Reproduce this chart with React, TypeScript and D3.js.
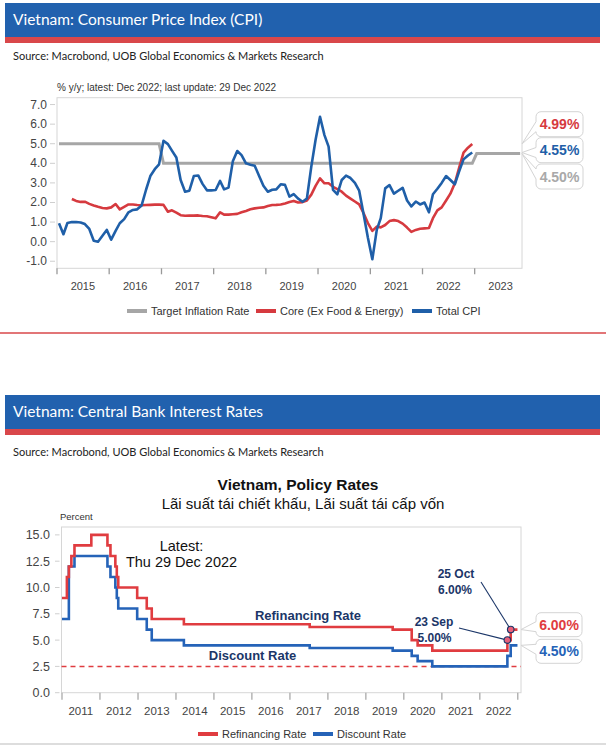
import React from 'react';
import * as d3 from 'd3';

// ---------- Chart 1 data: Vietnam CPI (% y/y), monthly Jan 2015 - Dec 2022 ----------
const cpiStart = [2015, 0];
const totalCPI = [
  0.94, 0.38, 0.95, 1.0, 1.0, 0.98, 0.9, 0.65, 0.05, 0.0, 0.3, 0.6,
  0.1, 0.55, 0.94, 1.15, 1.5, 1.62, 1.65, 1.85, 2.65, 3.35, 3.7, 3.95,
  5.15, 4.98, 4.65, 4.3, 3.15, 2.55, 2.6, 3.35, 3.38, 2.95, 2.62, 2.62,
  2.64, 3.1, 2.67, 2.76, 4.1, 4.63, 4.42, 4.0, 3.93, 3.88, 3.35, 2.85,
  2.55, 2.65, 2.67, 2.93, 2.9, 2.3, 2.43, 2.2, 2.04, 2.2, 3.83, 5.2,
  6.38, 5.44, 4.85, 2.64, 2.42, 3.15, 3.37, 3.25, 3.0, 2.6, 1.4, 0.2,
  -0.9, 0.6, 1.2, 2.72, 2.89, 2.45, 2.6, 2.75, 2.1, 1.8, 2.05, 1.9,
  2.0, 1.5, 2.42, 2.7, 3.0, 3.35, 3.15, 2.93, 3.6, 4.2, 4.4, 4.55,
];
const coreCPI: (number | null)[] = [
  null, null, null, 2.18, 2.08, 2.03, 2.04, 1.93, 1.85, 1.78, 1.72, 1.7,
  1.75, 1.92, 1.65, 1.78, 1.9, 1.9, 1.87, 1.86, 1.87, 1.88, 1.89, 1.89,
  1.88, 1.53, 1.6, 1.48, 1.35, 1.32, 1.33, 1.33, 1.34, 1.31, 1.3, 1.25,
  1.19, 1.5, 1.38, 1.38, 1.4, 1.42, 1.5, 1.57, 1.65, 1.7, 1.73, 1.75,
  1.82, 1.87, 1.88, 1.9, 1.95, 2.02, 2.08, 2.0, 2.02, 2.1, 2.4, 2.85,
  3.23, 2.98, 2.98, 2.8, 2.68, 2.55, 2.35, 2.2, 2.05, 1.9, 1.45, 0.95,
  0.55, 0.77, 0.73, 0.85, 1.05, 1.1, 1.05, 0.92, 0.72, 0.5, 0.6, 0.66,
  0.68, 0.7, 1.2, 1.6, 1.75, 2.1, 2.45, 2.98, 3.8, 4.55, 4.8, 4.99,
];
// Target inflation rate: [year, month(1-12), value]
const targetPoints: [number, number, number][] = [
  [2015, 1, 5.0], [2016, 12, 5.0], [2017, 1, 4.0], [2022, 12, 4.0], [2023, 1, 4.5], [2023, 11, 4.5],
];
const cpiYTicks = [7, 6, 5, 4, 3, 2, 1, 0, -1];
const cpiYears = [2015, 2016, 2017, 2018, 2019, 2020, 2021, 2022, 2023];
const cpiLatest = [
  { label: '4.99%', value: 4.99, color: '#d63a3f' },
  { label: '4.55%', value: 4.55, color: '#1f5fa8' },
  { label: '4.50%', value: 4.5, color: '#a9a9a9' },
];

// ---------- Chart 2 data: policy rates (step changes) ----------
const refiChanges: [string, number][] = [
  ['2011-01-01', 9], ['2011-02-17', 11], ['2011-03-08', 12], ['2011-04-01', 13], ['2011-05-01', 14],
  ['2011-10-10', 15], ['2012-03-13', 14], ['2012-04-11', 13], ['2012-05-28', 12], ['2012-06-11', 11],
  ['2012-06-25', 10], ['2012-12-24', 9], ['2013-03-26', 8], ['2013-05-13', 7], ['2014-03-18', 6.5],
  ['2017-07-10', 6.25], ['2019-09-16', 6.0], ['2020-03-17', 5.0], ['2020-05-13', 4.5], ['2020-10-01', 4.0],
  ['2022-09-23', 5.0], ['2022-10-25', 6.0], ['2022-12-29', 6.0],
];
const discChanges: [string, number][] = [
  ['2011-01-01', 7], ['2011-03-08', 12], ['2011-05-01', 13], ['2012-03-13', 12], ['2012-04-11', 11],
  ['2012-05-28', 10], ['2012-06-11', 9], ['2012-06-25', 8], ['2012-12-24', 7], ['2013-03-26', 6],
  ['2013-05-13', 5], ['2014-03-18', 4.5], ['2017-07-10', 4.25], ['2019-09-16', 4.0], ['2020-03-17', 3.5],
  ['2020-05-13', 3.0], ['2020-10-01', 2.5], ['2022-09-23', 3.5], ['2022-10-25', 4.5], ['2022-12-29', 4.5],
];
const floorRate = 2.5;
const rateYTicks = [15, 12.5, 10, 7.5, 5, 2.5, 0];
const rateYears = [2011, 2012, 2013, 2014, 2015, 2016, 2017, 2018, 2019, 2020, 2021, 2022];
const rateMarkers: { date: string; value: number; l1: string; l2: string }[] = [
  { date: '2022-09-23', value: 5.0, l1: '23 Sep', l2: '5.00%' },
  { date: '2022-10-25', value: 6.0, l1: '25 Oct', l2: '6.00%' },
];
const rateLatest = [
  { label: '6.00%', value: 6.0, color: '#e03c40' },
  { label: '4.50%', value: 4.5, color: '#2563b8' },
];

// ---------- styling ----------
const BLUE_BANNER = '#2161ae';
const RED_STRIPE = '#d9474a';
const NAVY = '#1b3668';
const SANS = 'Liberation Sans, Arial, sans-serif';
const HEAD = 'Lato, Open Sans, sans-serif';

const parse = d3.timeParse('%Y-%m-%d');

function callout(x0: number, y0: number, w: number, h: number, tx: number, ty: number) {
  const r = 5, half = 5;
  const cy = Math.max(y0 + r + half, Math.min(y0 + h - r - half, ty));
  return `M${x0 + r},${y0} H${x0 + w - r} A${r},${r} 0 0 1 ${x0 + w},${y0 + r} V${y0 + h - r} A${r},${r} 0 0 1 ${x0 + w - r},${y0 + h} H${x0 + r} A${r},${r} 0 0 1 ${x0},${y0 + h - r} V${cy + half} L${tx},${ty} L${x0},${cy - half} V${y0 + r} A${r},${r} 0 0 1 ${x0 + r},${y0} Z`;
}

function Banner({ y, title }: { y: number; title: string }) {
  return (
    <g>
      <rect x={5} y={y} width={595} height={34} fill={BLUE_BANNER} />
      <rect x={5} y={y + 34} width={595} height={6} fill={RED_STRIPE} />
      <text x={13} y={y + 22} fill="#fff" fontFamily={HEAD} fontSize={15.5}>{title}</text>
    </g>
  );
}

function CPIChart() {
  const x0 = 57, x1 = 522, yT = 97.7, yB = 268.3;
  const x = d3.scaleTime().domain([new Date(2015, 0, 1), new Date(2023, 10, 28)]).range([x0, x1]);
  const y = d3.scaleLinear().domain([-1.36, 7.35]).range([yB, yT]);
  const monthDate = (i: number) => new Date(cpiStart[0], cpiStart[1] + i, 15);
  const line = d3.line<[Date, number]>().x(d => x(d[0])).y(d => y(d[1]));
  const totalPts: [Date, number][] = totalCPI.map((v, i) => [monthDate(i), v]);
  const corePts: [Date, number][] = coreCPI
    .map((v, i) => [monthDate(i), v] as [Date, number | null])
    .filter(d => d[1] != null) as [Date, number][];
  const tgtPts: [Date, number][] = targetPoints.map(([yy, mm, v]) => [new Date(yy, mm - 1, 15), v]);
  const boxes = [111.7, 137.7, 164];
  return (
    <g>
      <text x={57} y={91} fontFamily={SANS} fontSize={10} fill="#333">% y/y; latest: Dec 2022; last update: 29 Dec 2022</text>
      {/* frame */}
      <rect x={x0} y={yT} width={x1 - x0} height={yB - yT} fill="none" stroke="#d6d6d6" strokeWidth={1} />
      {cpiYTicks.map(t => (
        <g key={t}>
          <line x1={50} x2={55} y1={y(t)} y2={y(t)} stroke="#cfcfcf" />
          <text x={47} y={y(t) + 4} textAnchor="end" fontFamily={SANS} fontSize={12} fill="#444">{t.toFixed(1)}</text>
        </g>
      ))}
      {cpiYears.map(yr => (
        <g key={yr}>
          <line x1={x(new Date(yr, 0, 1))} x2={x(new Date(yr, 0, 1))} y1={yB} y2={yB + 6} stroke="#999" strokeWidth={1.3} />
          <text x={x(new Date(yr, 6, 1))} y={290} textAnchor="middle" fontFamily={SANS} fontSize={11} fill="#444">{yr}</text>
        </g>
      ))}
      <path d={line(tgtPts) || ''} fill="none" stroke="#a6a6a6" strokeWidth={3} />
      <path d={line(corePts) || ''} fill="none" stroke="#d63a3f" strokeWidth={2.6} strokeLinejoin="round" />
      <path d={line(totalPts) || ''} fill="none" stroke="#1f5fa8" strokeWidth={2.6} strokeLinejoin="round" />
      {cpiLatest.map((c, i) => (
        <g key={c.label}>
          <path d={callout(536, boxes[i], 47, 25, x1, y(c.value))} fill="#fff" stroke="#d4d4d4" strokeWidth={1} />
          <text x={559.5} y={boxes[i] + 17.5} textAnchor="middle" fontFamily={SANS} fontWeight="bold" fontSize={14} fill={c.color}>{c.label}</text>
        </g>
      ))}
      {/* legend */}
      <line x1={127} x2={147} y1={311} y2={311} stroke="#a6a6a6" strokeWidth={4} />
      <text x={151} y={315} fontFamily={SANS} fontSize={11} fill="#333">Target Inflation Rate</text>
      <line x1={256} x2={276} y1={311} y2={311} stroke="#d63a3f" strokeWidth={4} />
      <text x={280} y={315} fontFamily={SANS} fontSize={11} fill="#333">Core (Ex Food &amp; Energy)</text>
      <line x1={412} x2={432} y1={311} y2={311} stroke="#1f5fa8" strokeWidth={4} />
      <text x={436} y={315} fontFamily={SANS} fontSize={11} fill="#333">Total CPI</text>
    </g>
  );
}

function RatesChart() {
  const x0 = 61.5, x1 = 521, yT = 527, yB = 692.7;
  const x = d3.scaleTime().domain([new Date(2011, 0, 1), new Date(2023, 1, 1)]).range([62, x1]);
  const y = d3.scaleLinear().domain([0, 15.75]).range([yB, yT]);
  const step = d3.line<[Date, number]>().x(d => x(d[0])).y(d => y(d[1])).curve(d3.curveStepAfter);
  const refi: [Date, number][] = refiChanges.map(([d, v]) => [parse(d) as Date, v]);
  const disc: [Date, number][] = discChanges.map(([d, v]) => [parse(d) as Date, v]);
  const boxes = [612.7, 639.3];
  const m0 = rateMarkers[0], m1 = rateMarkers[1];
  const p0 = [x(parse(m0.date) as Date), y(m0.value)];
  const p1 = [x(parse(m1.date) as Date), y(m1.value)];
  return (
    <g>
      <text x={298} y={490} textAnchor="middle" fontFamily={SANS} fontWeight="bold" fontSize={15.5} fill="#111">Vietnam, Policy Rates</text>
      <text x={303} y={509} textAnchor="middle" fontFamily={SANS} fontSize={15} fill="#111">Lãi suất tái chiết khấu, Lãi suất tái cấp vốn</text>
      <text x={60} y={520} fontFamily={SANS} fontSize={9.5} fill="#333">Percent</text>
      <rect x={x0} y={yT} width={x1 - x0} height={yB - yT} fill="none" stroke="#d6d6d6" strokeWidth={1} />
      {rateYTicks.map(t => (
        <g key={t}>
          <line x1={55} x2={59.5} y1={y(t)} y2={y(t)} stroke="#cfcfcf" />
          <text x={50} y={y(t) + 4.5} textAnchor="end" fontFamily={SANS} fontSize={12.5} fill="#444">{t.toFixed(1)}</text>
        </g>
      ))}
      {rateYears.concat([2023]).map(yr => (
        <line key={yr} x1={x(new Date(yr, 0, 1))} x2={x(new Date(yr, 0, 1))} y1={yB} y2={yB + 7} stroke="#aaa" strokeWidth={1.3} />
      ))}
      {rateYears.map(yr => (
        <text key={yr} x={x(new Date(yr, 6, 1))} y={715} textAnchor="middle" fontFamily={SANS} fontSize={11.5} fill="#444">{yr}</text>
      ))}
      <line x1={x0} x2={x1} y1={y(floorRate)} y2={y(floorRate)} stroke="#e03c40" strokeWidth={1.5} strokeDasharray="5,4" />
      <path d={step(disc) || ''} fill="none" stroke="#2563b8" strokeWidth={2.6} />
      <path d={step(refi) || ''} fill="none" stroke="#e03c40" strokeWidth={2.6} />
      <text x={181.5} y={551} textAnchor="middle" fontFamily={SANS} fontSize={14.5} fill="#111">Latest:</text>
      <text x={181.5} y={567} textAnchor="middle" fontFamily={SANS} fontSize={14.5} fill="#111">Thu 29 Dec 2022</text>
      <text x={308} y={620} textAnchor="middle" fontFamily={SANS} fontWeight="bold" fontSize={13} fill={NAVY}>Refinancing Rate</text>
      <text x={252.5} y={660} textAnchor="middle" fontFamily={SANS} fontWeight="bold" fontSize={13} fill={NAVY}>Discount Rate</text>
      <text x={456} y={578} textAnchor="middle" fontFamily={SANS} fontWeight="bold" fontSize={12} fill={NAVY}>{m1.l1}</text>
      <text x={455} y={594} textAnchor="middle" fontFamily={SANS} fontWeight="bold" fontSize={12} fill={NAVY}>{m1.l2}</text>
      <text x={434} y={626} textAnchor="middle" fontFamily={SANS} fontWeight="bold" fontSize={12} fill={NAVY}>{m0.l1}</text>
      <text x={434.5} y={642} textAnchor="middle" fontFamily={SANS} fontWeight="bold" fontSize={12} fill={NAVY}>{m0.l2}</text>
      <line x1={481} y1={582} x2={p1[0]} y2={p1[1]} stroke={NAVY} strokeWidth={1.1} />
      <line x1={459} y1={628} x2={p0[0]} y2={p0[1]} stroke={NAVY} strokeWidth={1.1} />
      <circle cx={p0[0]} cy={p0[1]} r={3.3} fill="#e8607a" stroke={NAVY} strokeWidth={1.1} />
      <circle cx={p1[0]} cy={p1[1]} r={3.3} fill="#e8607a" stroke={NAVY} strokeWidth={1.1} />
      {rateLatest.map((c, i) => (
        <g key={c.label}>
          <path d={callout(536, boxes[i], 46, 24, x1, y(c.value))} fill="#fff" stroke="#d4d4d4" strokeWidth={1} />
          <text x={559} y={boxes[i] + 17} textAnchor="middle" fontFamily={SANS} fontWeight="bold" fontSize={14} fill={c.color}>{c.label}</text>
        </g>
      ))}
      <line x1={198} x2={218} y1={734} y2={734} stroke="#e03c40" strokeWidth={4} />
      <text x={222} y={738} fontFamily={SANS} fontSize={11} fill="#333">Refinancing Rate</text>
      <line x1={313} x2={333} y1={734} y2={734} stroke="#2563b8" strokeWidth={4} />
      <text x={337} y={738} fontFamily={SANS} fontSize={11} fill="#333">Discount Rate</text>
    </g>
  );
}

export default function App() {
  return (
    <svg width={606} height={746} viewBox="0 0 606 746" style={{ position: 'absolute', left: 0, top: 0, background: '#fff' }}>
      <rect x={0} y={0} width={606} height={746} fill="#fff" />
      <Banner y={3} title="Vietnam: Consumer Price Index (CPI)" />
      <text x={13} y={60} fontFamily={HEAD} fontSize={11} fill="#222">Source: Macrobond, UOB Global Economics &amp; Markets Research</text>
      <CPIChart />
      <line x1={0} x2={606} y1={333} y2={333} stroke={RED_STRIPE} strokeWidth={1.5} />
      <Banner y={395} title="Vietnam: Central Bank Interest Rates" />
      <text x={13} y={456} fontFamily={HEAD} fontSize={11} fill="#222">Source: Macrobond, UOB Global Economics &amp; Markets Research</text>
      <RatesChart />
      <line x1={0} x2={606} y1={744} y2={744} stroke="#bbb" strokeWidth={1} />
    </svg>
  );
}
